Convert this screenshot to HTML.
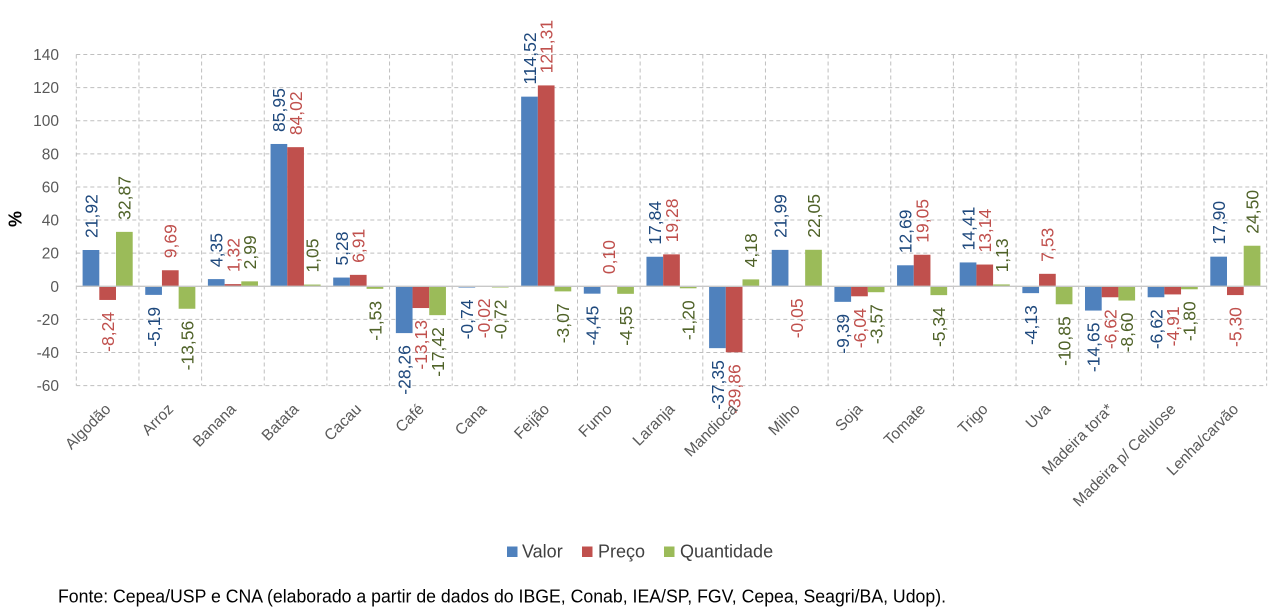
<!DOCTYPE html>
<html>
<head>
<meta charset="utf-8">
<style>
  html,body{margin:0;padding:0;background:#fff;}
  svg{display:block;}
  text{font-family:"Liberation Sans",sans-serif;}
  .tick{font-size:15.5px;fill:#595959;text-anchor:end;}
  .cat{font-size:15.5px;fill:#595959;text-anchor:end;}
  .lb{font-size:17.5px;fill:#1F497D;}
  .lr{font-size:17.5px;fill:#C0504D;}
  .lg{font-size:17.5px;fill:#4F6228;}
  .s{text-anchor:start;}
  .e{text-anchor:end;}
</style>
</head>
<body>
<svg width="1277" height="611" viewBox="0 0 1277 611" xmlns="http://www.w3.org/2000/svg">
<rect width="1277" height="611" fill="#fff"/>
<!-- horizontal gridlines -->
<g stroke="#BFBFBF" stroke-width="1" stroke-dasharray="4,3" fill="none">
  <line x1="76.3" y1="54.46" x2="1266.65" y2="54.46"/>
  <line x1="76.3" y1="87.58" x2="1266.65" y2="87.58"/>
  <line x1="76.3" y1="120.7" x2="1266.65" y2="120.7"/>
  <line x1="76.3" y1="153.82" x2="1266.65" y2="153.82"/>
  <line x1="76.3" y1="186.94" x2="1266.65" y2="186.94"/>
  <line x1="76.3" y1="220.06" x2="1266.65" y2="220.06"/>
  <line x1="76.3" y1="253.18" x2="1266.65" y2="253.18"/>
  <line x1="76.3" y1="319.42" x2="1266.65" y2="319.42"/>
  <line x1="76.3" y1="352.54" x2="1266.65" y2="352.54"/>
  <line x1="76.3" y1="385.66" x2="1266.65" y2="385.66"/>
  <line x1="76.3" y1="54.46" x2="76.3" y2="385.66"/>
  <line x1="138.95" y1="54.46" x2="138.95" y2="385.66"/>
  <line x1="201.6" y1="54.46" x2="201.6" y2="385.66"/>
  <line x1="264.25" y1="54.46" x2="264.25" y2="385.66"/>
  <line x1="326.9" y1="54.46" x2="326.9" y2="385.66"/>
  <line x1="389.55" y1="54.46" x2="389.55" y2="385.66"/>
  <line x1="452.2" y1="54.46" x2="452.2" y2="385.66"/>
  <line x1="514.85" y1="54.46" x2="514.85" y2="385.66"/>
  <line x1="577.5" y1="54.46" x2="577.5" y2="385.66"/>
  <line x1="640.15" y1="54.46" x2="640.15" y2="385.66"/>
  <line x1="702.8" y1="54.46" x2="702.8" y2="385.66"/>
  <line x1="765.45" y1="54.46" x2="765.45" y2="385.66"/>
  <line x1="828.1" y1="54.46" x2="828.1" y2="385.66"/>
  <line x1="890.75" y1="54.46" x2="890.75" y2="385.66"/>
  <line x1="953.4" y1="54.46" x2="953.4" y2="385.66"/>
  <line x1="1016.05" y1="54.46" x2="1016.05" y2="385.66"/>
  <line x1="1078.7" y1="54.46" x2="1078.7" y2="385.66"/>
  <line x1="1141.35" y1="54.46" x2="1141.35" y2="385.66"/>
  <line x1="1204" y1="54.46" x2="1204" y2="385.66"/>
  <line x1="1266.65" y1="54.46" x2="1266.65" y2="385.66"/>
</g>

<!-- y tick labels -->
<text class="tick" x="59" y="59.96">140</text>
<text class="tick" x="59" y="93.08">120</text>
<text class="tick" x="59" y="126.2">100</text>
<text class="tick" x="59" y="159.32">80</text>
<text class="tick" x="59" y="192.44">60</text>
<text class="tick" x="59" y="225.56">40</text>
<text class="tick" x="59" y="258.68">20</text>
<text class="tick" x="59" y="291.8">0</text>
<text class="tick" x="59" y="324.92">-20</text>
<text class="tick" x="59" y="358.04">-40</text>
<text class="tick" x="59" y="391.16">-60</text>

<text transform="translate(21.5,219) rotate(-90)" text-anchor="middle" font-size="18" font-weight="bold" fill="#000">%</text>

<!-- bars: Valor -->
<g fill="#4F81BD">
  <rect x="82.6" y="250.0" width="16.7" height="36.30"/>
  <rect x="145.25" y="286.3" width="16.7" height="8.59"/>
  <rect x="207.9" y="279.1" width="16.7" height="7.20"/>
  <rect x="270.55" y="143.97" width="16.7" height="142.33"/>
  <rect x="333.2" y="277.56" width="16.7" height="8.74"/>
  <rect x="395.85" y="286.3" width="16.7" height="46.80"/>
  <rect x="458.5" y="286.3" width="16.7" height="1.23"/>
  <rect x="521.15" y="96.65" width="16.7" height="189.65"/>
  <rect x="583.8" y="286.3" width="16.7" height="7.37"/>
  <rect x="646.45" y="256.76" width="16.7" height="29.54"/>
  <rect x="709.1" y="286.3" width="16.7" height="61.85"/>
  <rect x="771.75" y="249.88" width="16.7" height="36.42"/>
  <rect x="834.4" y="286.3" width="16.7" height="15.55"/>
  <rect x="897.05" y="265.29" width="16.7" height="21.01"/>
  <rect x="959.7" y="262.44" width="16.7" height="23.86"/>
  <rect x="1022.35" y="286.3" width="16.7" height="6.84"/>
  <rect x="1085.0" y="286.3" width="16.7" height="24.26"/>
  <rect x="1147.65" y="286.3" width="16.7" height="10.96"/>
  <rect x="1210.3" y="256.66" width="16.7" height="29.64"/>
</g>
<!-- bars: Preço -->
<g fill="#C0504D">
  <rect x="99.3" y="286.3" width="16.7" height="13.65"/>
  <rect x="161.95" y="270.25" width="16.7" height="16.05"/>
  <rect x="224.6" y="284.11" width="16.7" height="2.19"/>
  <rect x="287.25" y="147.16" width="16.7" height="139.14"/>
  <rect x="349.9" y="274.86" width="16.7" height="11.44"/>
  <rect x="412.55" y="286.3" width="16.7" height="21.74"/>
  <rect x="475.2" y="286.3" width="16.7" height="0.3"/>
  <rect x="537.85" y="85.41" width="16.7" height="200.89"/>
  <rect x="600.5" y="285.6" width="16.7" height="0.7"/>
  <rect x="663.15" y="254.37" width="16.7" height="31.93"/>
  <rect x="725.8" y="286.3" width="16.7" height="66.01"/>
  <rect x="788.45" y="286.3" width="16.7" height="0.3"/>
  <rect x="851.1" y="286.3" width="16.7" height="10.00"/>
  <rect x="913.75" y="254.75" width="16.7" height="31.55"/>
  <rect x="976.4" y="264.54" width="16.7" height="21.76"/>
  <rect x="1039.05" y="273.83" width="16.7" height="12.47"/>
  <rect x="1101.7" y="286.3" width="16.7" height="10.96"/>
  <rect x="1164.35" y="286.3" width="16.7" height="8.13"/>
  <rect x="1227.0" y="286.3" width="16.7" height="8.78"/>
</g>
<!-- bars: Quantidade -->
<g fill="#9BBB59">
  <rect x="116.0" y="231.87" width="16.7" height="54.43"/>
  <rect x="178.65" y="286.3" width="16.7" height="22.46"/>
  <rect x="241.3" y="281.35" width="16.7" height="4.95"/>
  <rect x="303.95" y="284.56" width="16.7" height="1.74"/>
  <rect x="366.6" y="286.3" width="16.7" height="2.53"/>
  <rect x="429.25" y="286.3" width="16.7" height="28.85"/>
  <rect x="491.9" y="286.3" width="16.7" height="1.19"/>
  <rect x="554.55" y="286.3" width="16.7" height="5.08"/>
  <rect x="617.2" y="286.3" width="16.7" height="7.53"/>
  <rect x="679.85" y="286.3" width="16.7" height="1.99"/>
  <rect x="742.5" y="279.38" width="16.7" height="6.92"/>
  <rect x="805.15" y="249.79" width="16.7" height="36.51"/>
  <rect x="867.8" y="286.3" width="16.7" height="5.91"/>
  <rect x="930.45" y="286.3" width="16.7" height="8.84"/>
  <rect x="993.1" y="284.43" width="16.7" height="1.87"/>
  <rect x="1055.75" y="286.3" width="16.7" height="17.97"/>
  <rect x="1118.4" y="286.3" width="16.7" height="14.24"/>
  <rect x="1181.05" y="286.3" width="16.7" height="2.98"/>
  <rect x="1243.7" y="245.73" width="16.7" height="40.57"/>
</g>

<!-- zero line -->
<line x1="76.3" y1="286.3" x2="1266.65" y2="286.3" stroke="#C8C8C8" stroke-width="1.3"/>

<!-- data labels: Valor -->
<text class="lb s" transform="translate(97.25,238.0) rotate(-90)">21,92</text>
<text class="lb e" transform="translate(159.9,306.89) rotate(-90)">-5,19</text>
<text class="lb s" transform="translate(222.55,267.1) rotate(-90)">4,35</text>
<text class="lb s" transform="translate(285.2,131.97) rotate(-90)">85,95</text>
<text class="lb s" transform="translate(347.85,265.56) rotate(-90)">5,28</text>
<text class="lb e" transform="translate(410.5,345.1) rotate(-90)">-28,26</text>
<text class="lb e" transform="translate(473.15,299.53) rotate(-90)">-0,74</text>
<text class="lb s" transform="translate(535.8,84.65) rotate(-90)">114,52</text>
<text class="lb e" transform="translate(598.45,305.67) rotate(-90)">-4,45</text>
<text class="lb s" transform="translate(661.1,244.76) rotate(-90)">17,84</text>
<text class="lb e" transform="translate(723.75,360.15) rotate(-90)">-37,35</text>
<text class="lb s" transform="translate(786.4,237.88) rotate(-90)">21,99</text>
<text class="lb e" transform="translate(849.05,313.85) rotate(-90)">-9,39</text>
<text class="lb s" transform="translate(911.7,253.29) rotate(-90)">12,69</text>
<text class="lb s" transform="translate(974.35,250.44) rotate(-90)">14,41</text>
<text class="lb e" transform="translate(1037.0,305.14) rotate(-90)">-4,13</text>
<text class="lb e" transform="translate(1099.65,322.56) rotate(-90)">-14,65</text>
<text class="lb e" transform="translate(1162.3,309.26) rotate(-90)">-6,62</text>
<text class="lb s" transform="translate(1224.95,244.66) rotate(-90)">17,90</text>

<!-- data labels: Preço -->
<text class="lr e" transform="translate(113.95,311.95) rotate(-90)">-8,24</text>
<text class="lr s" transform="translate(176.6,258.25) rotate(-90)">9,69</text>
<text class="lr s" transform="translate(239.25,272.11) rotate(-90)">1,32</text>
<text class="lr s" transform="translate(301.9,135.16) rotate(-90)">84,02</text>
<text class="lr s" transform="translate(364.55,262.86) rotate(-90)">6,91</text>
<text class="lr e" transform="translate(427.2,320.04) rotate(-90)">-13,13</text>
<text class="lr e" transform="translate(489.85,298.33) rotate(-90)">-0,02</text>
<text class="lr s" transform="translate(552.5,73.41) rotate(-90)">121,31</text>
<text class="lr s" transform="translate(615.15,274.13) rotate(-90)">0,10</text>
<text class="lr s" transform="translate(677.8,242.37) rotate(-90)">19,28</text>
<text class="lr e" transform="translate(740.45,364.31) rotate(-90)">-39,86</text>
<text class="lr e" transform="translate(803.1,298.38) rotate(-90)">-0,05</text>
<text class="lr e" transform="translate(865.75,308.3) rotate(-90)">-6,04</text>
<text class="lr s" transform="translate(928.4,242.75) rotate(-90)">19,05</text>
<text class="lr s" transform="translate(991.05,252.54) rotate(-90)">13,14</text>
<text class="lr s" transform="translate(1053.7,261.83) rotate(-90)">7,53</text>
<text class="lr e" transform="translate(1116.35,309.26) rotate(-90)">-6,62</text>
<text class="lr e" transform="translate(1179.0,306.43) rotate(-90)">-4,91</text>
<text class="lr e" transform="translate(1241.65,307.08) rotate(-90)">-5,30</text>

<!-- data labels: Quantidade -->
<text class="lg s" transform="translate(130.65,219.87) rotate(-90)">32,87</text>
<text class="lg e" transform="translate(193.3,320.76) rotate(-90)">-13,56</text>
<text class="lg s" transform="translate(255.95,269.35) rotate(-90)">2,99</text>
<text class="lg s" transform="translate(318.6,272.56) rotate(-90)">1,05</text>
<text class="lg e" transform="translate(381.25,300.83) rotate(-90)">-1,53</text>
<text class="lg e" transform="translate(443.9,327.15) rotate(-90)">-17,42</text>
<text class="lg e" transform="translate(506.55,299.49) rotate(-90)">-0,72</text>
<text class="lg e" transform="translate(569.2,303.38) rotate(-90)">-3,07</text>
<text class="lg e" transform="translate(631.85,305.83) rotate(-90)">-4,55</text>
<text class="lg e" transform="translate(694.5,300.29) rotate(-90)">-1,20</text>
<text class="lg s" transform="translate(757.15,267.38) rotate(-90)">4,18</text>
<text class="lg s" transform="translate(819.8,237.79) rotate(-90)">22,05</text>
<text class="lg e" transform="translate(882.45,304.21) rotate(-90)">-3,57</text>
<text class="lg e" transform="translate(945.1,307.14) rotate(-90)">-5,34</text>
<text class="lg s" transform="translate(1007.75,272.43) rotate(-90)">1,13</text>
<text class="lg e" transform="translate(1070.4,316.27) rotate(-90)">-10,85</text>
<text class="lg e" transform="translate(1133.05,312.54) rotate(-90)">-8,60</text>
<text class="lg e" transform="translate(1195.7,301.28) rotate(-90)">-1,80</text>
<text class="lg s" transform="translate(1258.35,233.73) rotate(-90)">24,50</text>

<!-- category labels -->
<text class="cat" transform="translate(111.6,410) rotate(-45)">Algodão</text>
<text class="cat" transform="translate(174.3,410) rotate(-45)">Arroz</text>
<text class="cat" transform="translate(236.9,410) rotate(-45)">Banana</text>
<text class="cat" transform="translate(299.6,410) rotate(-45)">Batata</text>
<text class="cat" transform="translate(362.2,410) rotate(-45)">Cacau</text>
<text class="cat" transform="translate(424.9,410) rotate(-45)">Café</text>
<text class="cat" transform="translate(487.5,410) rotate(-45)">Cana</text>
<text class="cat" transform="translate(550.2,410) rotate(-45)">Feijão</text>
<text class="cat" transform="translate(612.8,410) rotate(-45)">Fumo</text>
<text class="cat" transform="translate(675.5,410) rotate(-45)">Laranja</text>
<text class="cat" transform="translate(738.1,410) rotate(-45)">Mandioca</text>
<text class="cat" transform="translate(800.8,410) rotate(-45)">Milho</text>
<text class="cat" transform="translate(863.4,410) rotate(-45)">Soja</text>
<text class="cat" transform="translate(926.1,410) rotate(-45)">Tomate</text>
<text class="cat" transform="translate(988.7,410) rotate(-45)">Trigo</text>
<text class="cat" transform="translate(1051.4,410) rotate(-45)">Uva</text>
<text class="cat" transform="translate(1114.0,410) rotate(-45)">Madeira tora*</text>
<text class="cat" transform="translate(1176.7,410) rotate(-45)">Madeira p/ Celulose</text>
<text class="cat" transform="translate(1239.3,410) rotate(-45)">Lenha/carvão</text>

<!-- legend -->
<rect x="507" y="546.5" width="10.5" height="10.5" fill="#4F81BD"/>
<text x="522" y="557.5" font-size="18" fill="#404040">Valor</text>
<rect x="582" y="546.5" width="10.5" height="10.5" fill="#C0504D"/>
<text x="598" y="557.5" font-size="18" fill="#404040">Preço</text>
<rect x="664" y="546.5" width="10.5" height="10.5" fill="#9BBB59"/>
<text x="680" y="557.5" font-size="18" fill="#404040">Quantidade</text>

<!-- footer -->
<text x="58" y="602.5" font-size="18" fill="#000" textLength="888" lengthAdjust="spacingAndGlyphs">Fonte: Cepea/USP e CNA (elaborado a partir de dados do IBGE, Conab, IEA/SP, FGV, Cepea, Seagri/BA, Udop).</text>
</svg>
</body>
</html>
